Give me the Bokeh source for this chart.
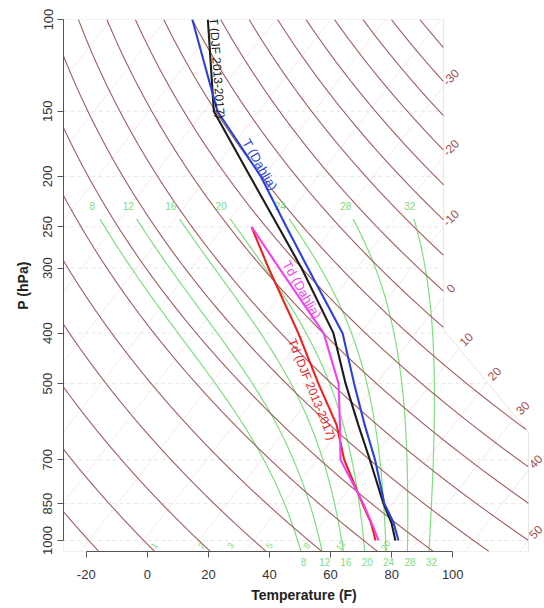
import numpy as np
from bokeh.plotting import figure
from bokeh.models import (Range1d, FixedTicker, CustomJSTickFormatter, NumeralTickFormatter,
                          ColumnDataSource, LinearAxis)
from bokeh.core.properties import value
from bokeh.embed import file_html
from bokeh.resources import INLINE

# ---------------- data (temperatures in deg F, pressure in hPa) ----------------
pressure = [1000, 925, 850, 700, 600, 500, 400, 300, 250, 200, 150, 100]
t_dahlia_f = [79.4, 73.3, 65.4, 51.1, 38.8, 24.8, 8.1, -19.9, -37.5, -58.8, -89.6, -121.3]
t_djf_f = [78.4, 72.6, 65.1, 49.4, 36.7, 22.0, 5.1, -22.0, -40.1, -62.3, -90.8, -116.2]
pressure_td = [1000, 925, 850, 700, 600, 500, 400, 300, 250]
td_dahlia_f = [72.9, 66.1, 58.5, 39.8, 30.7, 19.7, 1.9, -29.3, -48.9]
td_djf_f = [71.9, 65.9, 58.2, 41.0, 29.6, 13.1, -6.4, -32.8, -48.9]

pressure_ticks = [100, 150, 200, 250, 300, 400, 500, 700, 850, 1000]
temp_ticks_f = [-20, 0, 20, 40, 60, 80, 100]
isotherms_c = list(range(-100, 60, 10))
isotherm_labels_c = [-30, -20, -10, 0, 10, 20, 30, 40, 50]
dry_theta_c = list(range(-30, 230, 10))
moist_thetaw_c = [8, 12, 16, 20, 24, 28, 32]
mixing_ratios = [1, 2, 3, 5, 8, 12, 20]

FONT = "Liberation Sans"
BROWN = "#a05c5c"
GREEN = "#80dc80"

# ---------------- skew-T geometry ----------------
def skewty(pp):
    return 132.182 - 44.061 * np.log10(pp)

def skewtx(tc, pp):
    return 0.54 * np.asarray(tc) + 0.90692 * skewty(pp)

def f2c(f):
    return (np.asarray(f, dtype=float) - 32.0) * 5.0 / 9.0

X_LEFT, X_RIGHT = -18.684, 28.566
XR_TOP, XR_BOT = 18.66, 26.99
P_D1, P_D2 = 394.0, 620.0

def xright(pp):
    lp = np.log10(pp)
    f = np.clip((lp - np.log10(P_D1)) / (np.log10(P_D2) - np.log10(P_D1)), 0, 1)
    return XR_TOP + f * (XR_BOT - XR_TOP)

PGRID = np.logspace(2, np.log10(1050), 1600)

def clipped_segments(xs, ps):
    inside = (xs >= X_LEFT) & (xs <= xright(ps))
    sx, sy = [], []
    idx = np.where(inside)[0]
    if len(idx) == 0:
        return sx, sy
    br = np.where(np.diff(idx) > 1)[0]
    starts = np.r_[idx[0], idx[br + 1]]
    ends = np.r_[idx[br], idx[-1]]
    for s, e in zip(starts, ends):
        if e > s:
            sx.append(xs[s:e + 1].tolist())
            sy.append(ps[s:e + 1].tolist())
    return sx, sy

def tmr(w, pp):
    x = np.log10((w * pp) / (622.0 + w))
    tk = 10 ** (0.0498646455 * x + 2.4082965) - 7.07475 + 38.9114 * ((10 ** (0.0915 * x) - 1.2035) ** 2)
    return tk - 273.15

def dTdp(T, pp):
    Rd, cp, Lv, eps = 287.04, 1005.7, 2.501e6, 0.622
    tc = T - 273.15
    e = 6.112 * np.exp(17.67 * tc / (tc + 243.5))
    rs = eps * e / (pp - e)
    return (Rd * T + Lv * rs) / (pp * (cp + Lv * Lv * rs * eps / (Rd * T * T)))

def integrate(p0, T0, p1, n):
    ps = np.linspace(p0, p1, n)
    Ts = [T0]
    for i in range(n - 1):
        h = ps[i + 1] - ps[i]
        T = Ts[-1]
        pp = ps[i]
        k1 = dTdp(T, pp)
        k2 = dTdp(T + h * k1 / 2, pp + h / 2)
        k3 = dTdp(T + h * k2 / 2, pp + h / 2)
        k4 = dTdp(T + h * k3, pp + h)
        Ts.append(T + h * (k1 + 2 * k2 + 2 * k3 + k4) / 6)
    return ps, np.array(Ts) - 273.15

# ---------------- figure ----------------
p = figure(width=544, height=608, x_range=Range1d(X_LEFT, X_RIGHT), y_range=Range1d(1050, 100),
           y_axis_type="log", output_backend="svg", toolbar_location=None,
           min_border_left=63, min_border_right=0, min_border_top=19, min_border_bottom=57)
p.grid.visible = False
p.outline_line_color = None
p.background_fill_color = "white"
p.border_fill_color = "white"

# isobars (faint dashed)
ib_x, ib_y = [], []
for pr in pressure_ticks[1:]:
    ib_x.append([X_LEFT, float(xright(pr))])
    ib_y.append([pr, pr])
p.multi_line(xs=ib_x, ys=ib_y, line_color="#e6e6e6", line_width=1, line_dash="4 3")

# isotherms (faint)
it_x, it_y = [], []
for tc in isotherms_c:
    sx, sy = clipped_segments(skewtx(tc, PGRID), PGRID)
    it_x += sx
    it_y += sy
p.multi_line(xs=it_x, ys=it_y, line_color="#f1e5e5", line_width=1)

# diagram outline
ox = [X_LEFT, XR_TOP, XR_TOP, XR_BOT, XR_BOT, X_LEFT, X_LEFT]
oy = [100, 100, P_D1, P_D2, 1050, 1050, 100]
p.line(ox, oy, line_color="#e4e4e4", line_width=1)

# moist (pseudo) adiabats
ma_x, ma_y, top_lab_x, bot_lab_x = [], [], [], []
for thw in moist_thetaw_c:
    pu, tu = integrate(1000.0, thw + 273.15, 228.0, 400)
    pd, td = integrate(1000.0, thw + 273.15, 1050.0, 30)
    ps = np.r_[pd[::-1], pu[1:]]
    ts = np.r_[td[::-1], tu[1:]]
    keep = ps >= 240.0
    ma_x.append(skewtx(ts[keep], ps[keep]).tolist())
    ma_y.append(ps[keep].tolist())
    top_lab_x.append(float(skewtx(tu[-1], pu[-1])))
    bot_lab_x.append(float(skewtx(td[-1], pd[-1])) + 0.25)
p.multi_line(xs=ma_x, ys=ma_y, line_color=GREEN, line_width=1.2)

# dry adiabats
da_x, da_y = [], []
for th in dry_theta_c:
    tt = (th + 273.15) * (PGRID / 1000.0) ** 0.286 - 273.15
    sx, sy = clipped_segments(skewtx(tt, PGRID), PGRID)
    da_x += sx
    da_y += sy
p.multi_line(xs=da_x, ys=da_y, line_color=BROWN, line_width=1.1)

# green labels of moist adiabats (top)
p.text(x=top_lab_x, y=[228.0] * len(moist_thetaw_c), text=[str(v) for v in moist_thetaw_c],
       text_color=GREEN, text_font=value(FONT), text_font_size=value("10px"),
       text_align="center", text_baseline="middle")

# mixing ratio labels (bottom, inside)
mr_x = [float(skewtx(tmr(w, 1050.0), 1050.0)) for w in mixing_ratios]
p.text(x=mr_x, y=[1023.0] * len(mixing_ratios), text=[str(w) for w in mixing_ratios],
       angle=55, angle_units="deg", text_color=GREEN, text_font=value(FONT),
       text_font_size=value("9px"), text_align="center", text_baseline="middle")

# isotherm labels on the right edge
lab_x, lab_y, lab_t = [], [], []
for tc in isotherm_labels_c:
    d = skewtx(tc, PGRID) - xright(PGRID)
    if d[0] <= 0:
        continue
    i = int(np.argmax(d <= 0))
    lab_x.append(float(xright(PGRID[i])))
    lab_y.append(float(PGRID[i]))
    lab_t.append(str(tc))
p.text(x=lab_x, y=lab_y, text=lab_t, x_offset=7, y_offset=-9, angle=45, angle_units="deg",
       text_color="#a05050", text_font=value(FONT), text_font_size=value("12px"),
       text_align="center", text_baseline="middle")

# profiles
x_t_dahlia = skewtx(f2c(t_dahlia_f), np.array(pressure, float))
x_t_djf = skewtx(f2c(t_djf_f), np.array(pressure, float))
x_td_dahlia = skewtx(f2c(td_dahlia_f), np.array(pressure_td, float))
x_td_djf = skewtx(f2c(td_djf_f), np.array(pressure_td, float))

p.line(x_td_djf, pressure_td, line_color="#e8231f", line_width=2.1)
p.line(x_td_dahlia, pressure_td, line_color="#ee44ee", line_width=2.1)
p.line(x_t_djf, pressure, line_color="#1c1c1c", line_width=2.1)
p.line(x_t_dahlia, pressure, line_color="#2a42d8", line_width=2.1)

def x_at(pp, pres, xs):
    lp = np.log10(np.asarray(pres, float))[::-1]
    return float(np.interp(np.log10(pp), lp, np.asarray(xs)[::-1]))

labels = [
    ("T (DJF 2013-2017)", 124.0, pressure, x_t_djf, 6, -86, "#1c1c1c", "12px"),
    ("T (Dahlia)", 190.0, pressure, x_t_dahlia, 7, -60, "#2a42d8", "13px"),
    ("Td (Dahlia)", 330.0, pressure_td, x_td_dahlia, 8, -60, "#ee44ee", "13px"),
    ("Td (DJF 2013-2017)", 513.0, pressure_td, x_td_djf, -9, -68, "#e8231f", "12px"),
]
lsrc = ColumnDataSource(dict(
    x=[x_at(l[1], l[2], l[3]) for l in labels],
    y=[l[1] for l in labels],
    t=[l[0] for l in labels],
    xo=[l[4] for l in labels],
    a=[l[5] for l in labels],
    c=[l[6] for l in labels],
    fs=[l[7] for l in labels],
))
p.text(x="x", y="y", text="t", x_offset="xo", angle="a", angle_units="deg", text_color="c",
       source=lsrc, text_font=value(FONT), text_font_size="fs",
       text_align="center", text_baseline="middle")

# ---------------- axes ----------------
y1050 = float(skewty(1050.0))
xt = [float(skewtx(f2c(f), 1050.0)) for f in temp_ticks_f]
f_code = "return String(Math.round(((tick - 0.90692*(%r))/0.54)*9/5 + 32));" % y1050

# axis 1: line and ticks only
xa = p.xaxis[0]
xa.ticker = FixedTicker(ticks=xt)
xa.formatter = CustomJSTickFormatter(code="return '';")
xa.bounds = (xt[0], xt[-1])
xa.axis_line_color = "#555555"
xa.major_tick_line_color = "#555555"
xa.major_tick_out = 6
xa.major_tick_in = 0
xa.minor_tick_line_color = None
xa.major_label_text_font_size = "0px"
xa.major_label_standoff = 0

# axis 2: green labels of the moist adiabats
green_code = ("const xs = %r; const labs = %r; let b = 0;"
              "for (let i = 0; i < xs.length; i++) { if (Math.abs(xs[i]-tick) < Math.abs(xs[b]-tick)) b = i; }"
              "return labs[b];") % (bot_lab_x, [str(v) for v in moist_thetaw_c])
ga = LinearAxis(ticker=FixedTicker(ticks=bot_lab_x), formatter=CustomJSTickFormatter(code=green_code),
                axis_line_color=None, major_tick_line_color=None, minor_tick_line_color=None,
                major_tick_out=0, major_tick_in=0, major_label_standoff=0,
                major_label_text_color=GREEN, major_label_text_font=FONT,
                major_label_text_font_size="10px")
p.add_layout(ga, "below")

# axis 3: temperature labels and title
ta = LinearAxis(ticker=FixedTicker(ticks=xt), formatter=CustomJSTickFormatter(code=f_code),
                axis_line_color=None, major_tick_line_color=None, minor_tick_line_color=None,
                major_tick_out=0, major_tick_in=0, major_label_standoff=1,
                major_label_text_color="#333333", major_label_text_font=FONT,
                major_label_text_font_size="13px",
                axis_label="Temperature (F)", axis_label_standoff=5,
                axis_label_text_font=FONT, axis_label_text_font_style="bold",
                axis_label_text_font_size="14px", axis_label_text_color="#222222")
p.add_layout(ta, "below")

ya = p.yaxis[0]
ya.ticker = FixedTicker(ticks=pressure_ticks)
ya.formatter = NumeralTickFormatter(format="0")
ya.bounds = (100, 1000)
ya.axis_label = "P (hPa)"
ya.major_label_orientation = "vertical"
ya.axis_line_color = "#555555"
ya.major_tick_line_color = "#555555"
ya.major_tick_out = 6
ya.major_tick_in = 0
ya.minor_tick_line_color = None
ya.major_label_text_font = FONT
ya.major_label_text_font_size = "13px"
ya.major_label_text_color = "#333333"
ya.axis_label_text_font = FONT
ya.axis_label_text_font_style = "bold"
ya.axis_label_text_font_size = "14px"
ya.axis_label_text_color = "#222222"
ya.major_label_standoff = 5
ya.axis_label_standoff = 10

open("out.html", "w").write(file_html(p, INLINE))
